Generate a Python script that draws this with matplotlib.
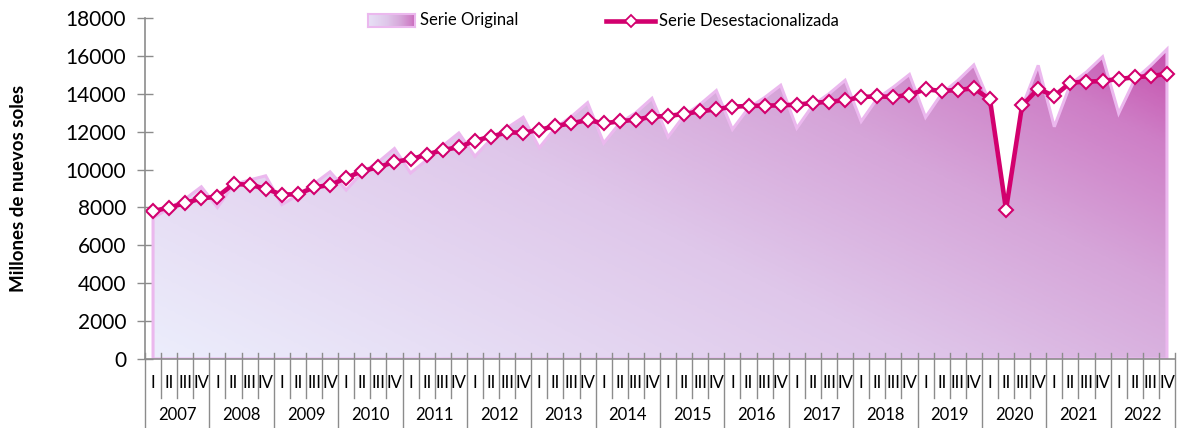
import numpy as np
import matplotlib
matplotlib.use("Agg")
import matplotlib.pyplot as plt
from matplotlib.colors import LinearSegmentedColormap
from matplotlib.lines import Line2D
from matplotlib.patches import Polygon

years = [str(y) for y in range(2007, 2023)]
quarters = ["I", "II", "III", "IV"]

# Millones de nuevos soles, trimestral 2007-I .. 2022-IV
serie_original = [
    7450, 7950, 8450, 9090,
    8000, 9200, 9450, 9670,
    8150, 8650, 9250, 9880,
    8920, 9850, 10400, 11110,
    9820, 10500, 11250, 11930,
    10700, 11600, 12200, 12760,
    11150, 12200, 12800, 13530,
    11400, 12450, 13000, 13760,
    11720, 12850, 13450, 14170,
    12120, 13250, 13800, 14450,
    12190, 13400, 14000, 14710,
    12540, 13750, 14350, 15020,
    12760, 14000, 14700, 15520,
    13500, 7700, 13300, 15500,
    12260, 14500, 15150, 15950,
    12970, 14750, 15500, 16350,
]
serie_desest = [
    7810, 7990, 8235, 8480,
    8570, 9240, 9200, 8990,
    8675, 8700, 9060, 9185,
    9555, 9925, 10120, 10410,
    10540, 10785, 11035, 11175,
    11525, 11735, 11965, 11945,
    12090, 12300, 12440, 12615,
    12440, 12545, 12635, 12790,
    12830, 12935, 13075, 13180,
    13320, 13355, 13375, 13390,
    13425, 13515, 13585, 13655,
    13830, 13865, 13830, 13950,
    14235, 14150, 14200, 14290,
    13705, 7885, 13390, 14255,
    13885, 14590, 14640, 14675,
    14780, 14870, 14940, 15045,
]

W, H = 1185, 428
LINE = "#D2006E"
AXIS = "#8C8C8C"

plt.rcParams["font.family"] = ["Lato", "DejaVu Sans"]

fig = plt.figure(figsize=(W / 100, H / 100), dpi=100)
ax_left, ax_right, ax_bottom, ax_top = 145, 1175, 359, 18
ax = fig.add_axes([ax_left / W, 1 - ax_bottom / H,
                   (ax_right - ax_left) / W, (ax_bottom - ax_top) / H])


def ypx(px):
    """Pixel row below the x axis -> axes fraction."""
    return (ax_bottom - px) / (ax_bottom - ax_top)


n = len(serie_original)
x = np.arange(n)

# Diagonal gradient (light lavender bottom-left -> magenta top-right)
cmap = LinearSegmentedColormap.from_list(
    "serie",
    [(0.0, "#ECEEFC"), (0.45, "#DFC7EA"), (0.68, "#D6A5D9"),
     (0.85, "#CE7EC6"), (1.0, "#C23EA2")],
)
gx, gy = np.meshgrid(np.linspace(0, 1, 500), np.linspace(0, 1, 250))
grad = 0.6 * gx + 0.4 * gy
img = ax.imshow(grad, cmap=cmap, vmin=0, vmax=1, origin="lower",
                extent=(-0.5, n - 0.5, 0, 18000), aspect="auto",
                interpolation="bilinear", zorder=1)
verts = [(x[0], 0)] + list(zip(x, serie_original)) + [(x[-1], 0)]
area = Polygon(verts, closed=True, facecolor="none", edgecolor="#EBB8EE",
               linewidth=2.2, joinstyle="miter", zorder=2)
ax.add_patch(area)
img.set_clip_path(area)

ax.plot(x, serie_desest, color=LINE, linewidth=3.3, marker="D",
        markersize=7.3, markerfacecolor="white", markeredgecolor=LINE,
        markeredgewidth=1.5, zorder=4, clip_on=False)

ax.set_xlim(-0.5, n - 0.5)
ax.set_ylim(0, 18000)
ax.set_yticks(range(0, 18001, 2000))
ax.set_yticklabels([str(v) for v in range(0, 18001, 2000)], fontsize=15)
ax.tick_params(axis="y", direction="inout", length=11, width=1,
               color=AXIS, pad=8, labelcolor="#000000")
ax.set_xticks([])
for side in ("top", "right"):
    ax.spines[side].set_visible(False)
for side in ("left", "bottom"):
    ax.spines[side].set_color(AXIS)
    ax.spines[side].set_linewidth(1.2)
    ax.spines[side].set_zorder(5)

# Two-level category axis: quarters and years
tr = ax.get_xaxis_transform()
for k in range(n + 1):
    xb = k - 0.5
    y_end = ypx(428) if k % 4 == 0 else ypx(398)
    ax.plot([xb, xb], [ypx(353), y_end], color=AXIS, linewidth=1,
            transform=tr, clip_on=False, zorder=5)
for i in range(n):
    ax.text(i, ypx(383), quarters[i % 4], transform=tr, ha="center",
            va="center", fontsize=12, color="#000000")
for j, yr in enumerate(years):
    ax.text(4 * j + 1.5, ypx(415), yr, transform=tr, ha="center",
            va="center", fontsize=12, color="#000000")

fig.text(19 / W, 1 - 188 / H, "Millones de nuevos soles", rotation=90,
         ha="center", va="center", fontsize=13.5, fontweight="bold")

# Legend drawn by hand so the area swatch carries the gradient
leg_y = 1 - 20.5 / H
sw = fig.add_axes([368 / W, 1 - 27 / H, 47 / W, 13 / H])
sw.imshow(np.linspace(0, 1, 100)[None, :] * 0.75 + 0.15, cmap=cmap,
          vmin=0, vmax=1, aspect="auto", extent=(0, 1, 0, 1))
sw.set_xticks([])
sw.set_yticks([])
for s in sw.spines.values():
    s.set_color("#EBB8EE")
    s.set_linewidth(1.5)
fig.text(420 / W, leg_y, "Serie Original", ha="left", va="center",
         fontsize=12)
fig.add_artist(Line2D([606 / W, 655 / W], [leg_y, leg_y],
                      transform=fig.transFigure, color=LINE, linewidth=3.3))
fig.add_artist(Line2D([630.5 / W], [leg_y], transform=fig.transFigure,
                      marker="D", markersize=6, markerfacecolor="white",
                      markeredgecolor=LINE, markeredgewidth=1.3,
                      linestyle="none"))
fig.text(659 / W, leg_y, "Serie Desestacionalizada", ha="left",
         va="center", fontsize=12)

fig.savefig("out.png", dpi=100)
plt.close(fig)
